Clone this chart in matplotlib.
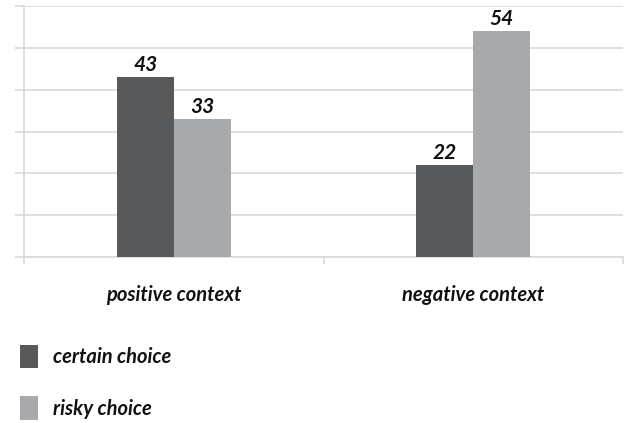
import numpy as np
import matplotlib.pyplot as plt

# Choice counts by framing context
contexts = ["positive context", "negative context"]
series = ["certain choice", "risky choice"]
certain = [43, 22]
risky = [33, 54]

colors = ["#58595b", "#a7a9ac"]
grid_color = "#d9d9d9"
font = dict(family="Lato", weight="bold", style="italic")

fig = plt.figure(figsize=(6.29, 4.23), dpi=100)
ax = fig.add_axes([24 / 629, 1 - 257 / 423, 599 / 629, 251 / 423])

x = np.arange(len(contexts))
w = 0.19
b1 = ax.bar(x - w / 2, certain, w, color=colors[0], label=series[0], zorder=3)
b2 = ax.bar(x + w / 2, risky, w, color=colors[1], label=series[1], zorder=3)

for bars in (b1, b2):
    for rect in bars:
        h = rect.get_height()
        ax.text(rect.get_x() + rect.get_width() / 2, h + 0.5, f"{h:g}",
                ha="center", va="bottom", fontsize=15, color="#111111", **font)

ax.set_xlim(-0.5, 1.5)
ax.set_ylim(0, 60)
ax.set_yticks(np.arange(0, 61, 10))
ax.set_yticklabels([])
ax.yaxis.grid(True, color=grid_color, linewidth=1.2, zorder=0)
ax.set_xticks([-0.5, 0.5, 1.5])
ax.set_xticklabels([])
ax.tick_params(axis="x", direction="out", length=5, color=grid_color, width=1.2)
ax.tick_params(axis="y", direction="out", length=6.5, color=grid_color, width=1.2)

for side in ("top", "right"):
    ax.spines[side].set_visible(False)
for side in ("left", "bottom"):
    ax.spines[side].set_color(grid_color)
    ax.spines[side].set_linewidth(1.2)

# Category labels under each group
for xi, name in zip(x, contexts):
    ax.text(xi, -0.15, name, transform=ax.get_xaxis_transform(),
            ha="center", va="center", fontsize=14.5, color="#111111", **font)

leg = fig.legend(handles=[b1, b2], labels=series, loc="upper left",
                 bbox_to_anchor=(20 / 629, 1 - 345 / 423), frameon=False,
                 borderpad=0, borderaxespad=0,
                 handlelength=0.9, handleheight=1.4, handletextpad=0.75,
                 labelspacing=1.4, prop=dict(size=14.5, **font))
for t in leg.get_texts():
    t.set_color("#111111")

fig.savefig("out.png", dpi=100)
